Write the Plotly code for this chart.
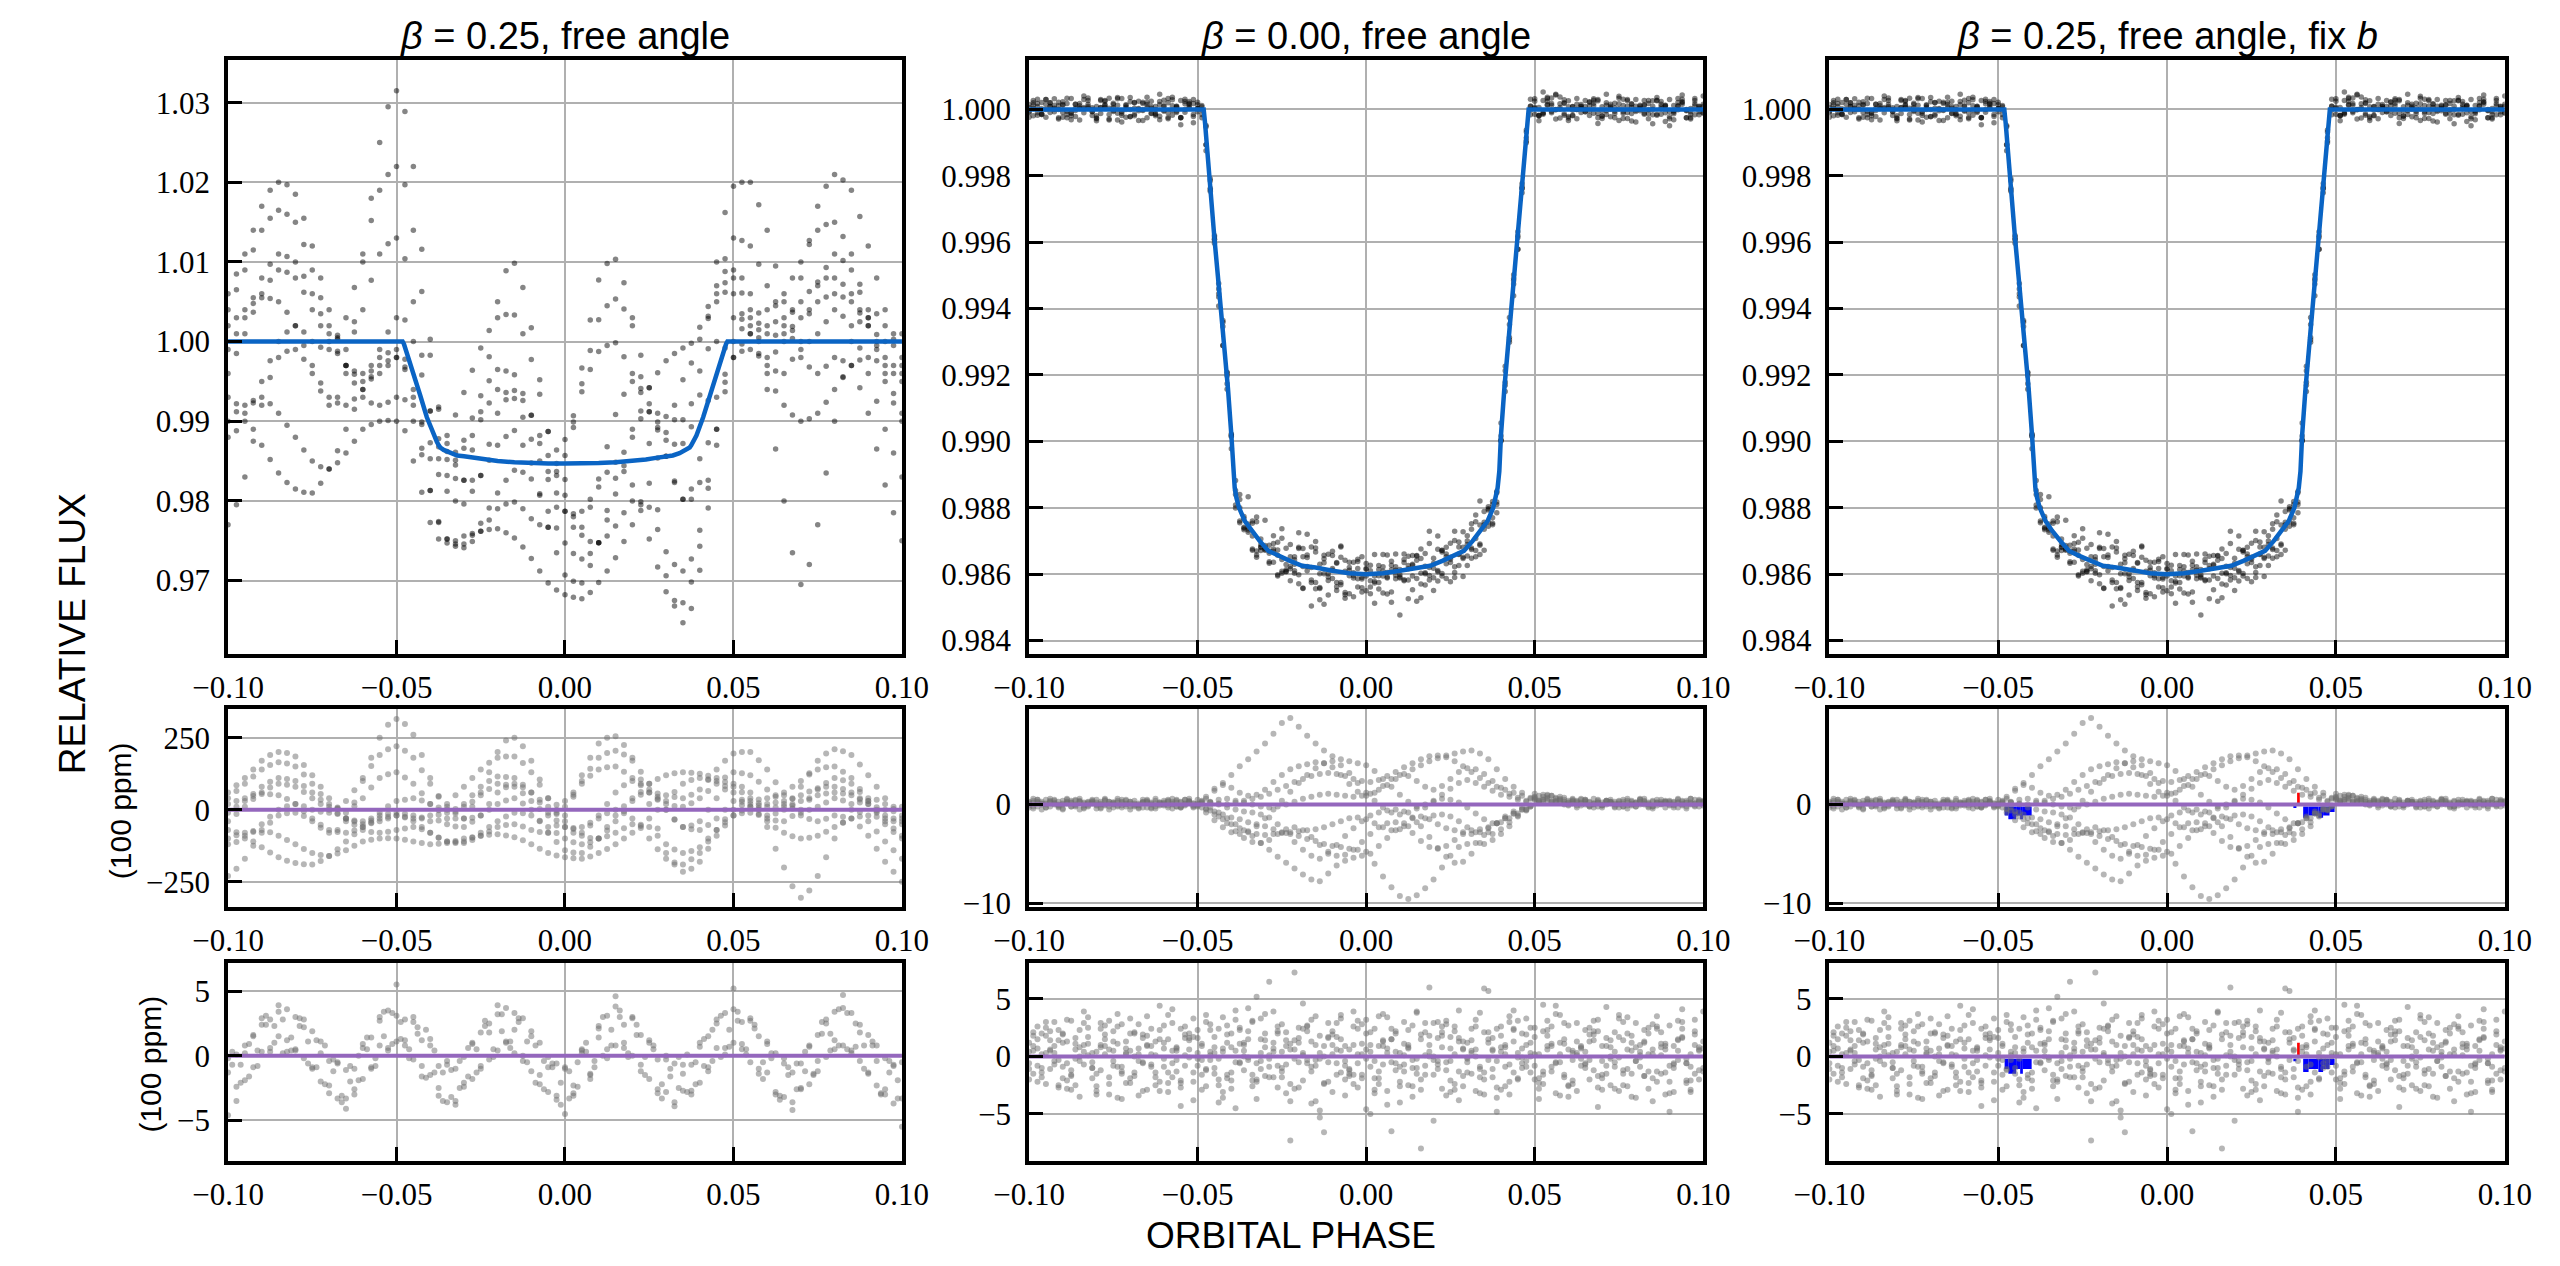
import plotly.graph_objects as go
from plotly.subplots import make_subplots

# ---------------- data ----------------
# orbital phase of the points, two interleaved cadences
PHASE_A = [-0.1000,-0.0975,-0.0950,-0.0925,-0.0900,-0.0875,-0.0850,-0.0825,-0.0800,-0.0775,
           -0.0750,-0.0725,-0.0700,-0.0675,-0.0650,-0.0625,-0.0600,-0.0575,-0.0550,-0.0525,
           -0.0500,-0.0475,-0.0450,-0.0425,-0.0400,-0.0375,-0.0350,-0.0325,-0.0300,-0.0275,
           -0.0250,-0.0225,-0.0200,-0.0175,-0.0150,-0.0125,-0.0100,-0.0075,-0.0050,-0.0025,
           0.0000,0.0025,0.0050,0.0075,0.0100,0.0125,0.0150,0.0175,0.0200,0.0225,
           0.0250,0.0275,0.0300,0.0325,0.0350,0.0375,0.0400,0.0425,0.0450,0.0475,
           0.0500,0.0525,0.0550,0.0575,0.0600,0.0625,0.0650,0.0675,0.0700,0.0725,
           0.0750,0.0775,0.0800,0.0825,0.0850,0.0875,0.0900,0.0925,0.0950,0.0975,
           0.1000]
PHASE_B = [-0.09875,-0.09625,-0.09375,-0.09125,-0.08875,-0.08625,-0.08375,-0.08125,-0.07875,-0.07625,
           -0.07375,-0.07125,-0.06875,-0.06625,-0.06375,-0.06125,-0.05875,-0.05625,-0.05375,-0.05125,
           -0.04875,-0.04625,-0.04375,-0.04125,-0.03875,-0.03625,-0.03375,-0.03125,-0.02875,-0.02625,
           -0.02375,-0.02125,-0.01875,-0.01625,-0.01375,-0.01125,-0.00875,-0.00625,-0.00375,-0.00125,
           0.00125,0.00375,0.00625,0.00875,0.01125,0.01375,0.01625,0.01875,0.02125,0.02375,
           0.02625,0.02875,0.03125,0.03375,0.03625,0.03875,0.04125,0.04375,0.04625,0.04875,
           0.05125,0.05375,0.05625,0.05875,0.06125,0.06375,0.06625,0.06875,0.07125,0.07375,
           0.07625,0.07875,0.08125,0.08375,0.08625,0.08875,0.09125,0.09375,0.09625,0.09875,
           0.10125]

FLAT = [1.0,1.0,1.0,1.0,1.0,1.0,1.0,1.0,1.0,1.0,1.0,1.0,1.0,1.0,1.0,1.0,1.0,1.0,1.0,1.0,1.0]

# transit models at the point phases (in-transit part)
MODEL_L_IN = [0.9992,0.9960,0.9926,0.9893,0.9870,0.9862,0.9858,0.9856,0.9854,0.9852,
              0.9851,0.9850,0.9849,0.98485,0.9848,0.98475,0.9847,0.9847,0.9847,0.9847,
              0.9847,0.9847,0.9847,0.98475,0.9848,0.98485,0.9849,0.9850,0.9851,0.9852,
              0.9854,0.9856,0.9858,0.9862,0.9870,0.9893,0.9926,0.9960,0.9992]
MODEL_M_IN_A = [0.9991,0.9961,0.99335,0.9902,0.9879,0.98745,0.9871,0.9868,0.98662,0.9865,
                0.9864,0.9863,0.98623,0.9862,0.98615,0.9861,0.98606,0.98603,0.98601,0.9860,
                0.98601,0.98603,0.98606,0.9861,0.98615,0.9862,0.98623,0.9863,0.9864,0.9865,
                0.98662,0.9868,0.9871,0.98745,0.9879,0.9902,0.99335,0.9961,0.9991]
MODEL_M_IN_B = [0.9976,0.9946,0.9919,0.9884,0.9876,0.9873,0.98695,0.98668,0.98655,0.98645,
                0.98635,0.98625,0.98621,0.98617,0.98612,0.98608,0.98604,0.98602,0.9860,0.9860,
                0.98602,0.98604,0.98608,0.98612,0.98617,0.98621,0.98625,0.98635,0.98645,0.98655,
                0.98668,0.98695,0.9873,0.9876,0.9884,0.9919,0.9946,0.9976,1.0]

# smooth model curves
MODEL_L_X = [-0.100,-0.0482,-0.0478,-0.0470,-0.0460,-0.0450,-0.0430,-0.0410,-0.0390,-0.0380,
             -0.0375,-0.0370,-0.0360,-0.0340,-0.0320,-0.0300,-0.0270,-0.0240,-0.0200,-0.0150,
             -0.0100,-0.0050,0.0000,0.0050,0.0100,0.0150,0.0200,0.0240,0.0270,0.0300,
             0.0320,0.0340,0.0360,0.0370,0.0375,0.0380,0.0390,0.0410,0.0430,0.0450,
             0.0460,0.0470,0.0478,0.0482,0.100]
MODEL_L_Y = [1.0,1.0,0.9997,0.9987,0.9974,0.9960,0.9933,0.9905,0.9882,0.9874,
             0.9870,0.9867,0.9864,0.9860,0.9857,0.9856,0.9854,0.9852,0.9850,0.98485,
             0.98475,0.9847,0.9847,0.9847,0.98475,0.98485,0.9850,0.9852,0.9854,0.9856,
             0.9857,0.9860,0.9864,0.9867,0.9870,0.9874,0.9882,0.9905,0.9933,0.9960,
             0.9974,0.9987,0.9997,1.0,1.0]
MODEL_M_X = [-0.100,-0.0482,-0.0478,-0.0470,-0.0460,-0.0450,-0.0440,-0.0430,-0.0420,-0.0410,
             -0.0400,-0.0395,-0.0390,-0.0385,-0.0377,-0.0360,-0.0340,-0.0316,-0.0290,-0.0260,
             -0.0226,-0.0190,-0.0150,-0.0100,-0.0050,0.0000,0.0050,0.0100,0.0150,0.0190,
             0.0226,0.0260,0.0290,0.0316,0.0340,0.0360,0.0377,0.0385,0.0390,0.0395,
             0.0400,0.0410,0.0420,0.0430,0.0440,0.0450,0.0460,0.0470,0.0478,0.0482,0.100]
MODEL_M_Y = [1.0,1.0,0.9996,0.9985,0.9973,0.9961,0.9950,0.9939,0.9928,0.9916,
             0.9902,0.9891,0.9886,0.9883,0.9880,0.9876,0.9873,0.9870,0.9867,0.98655,
             0.9864,0.98625,0.9862,0.9861,0.98603,0.9860,0.98603,0.9861,0.9862,0.98625,
             0.9864,0.98655,0.9867,0.9870,0.9873,0.9876,0.9880,0.9883,0.9886,0.9891,
             0.9902,0.9916,0.9928,0.9939,0.9950,0.9961,0.9973,0.9985,0.9996,1.0,1.0]

# left column: variability tracks (units of 100 ppm), one per transit
TRACKS_L = [
    [-230,-205,-170,-125,-80,-45,-20,-12,-10,-22,-40,-62,-80,-70,-40,25,100,180,250,295,315,
     297,260,190,110,45,-10,-30,-30,10,60,130,200,240,250,220,170,105,40,-15,-60,-80,-80,-55,-20,20,60,85,100,90,70,35,0,-35,-60,-55,-40,0,40,70,
     90,80,60,5,-60,-135,-200,-265,-305,-280,-230,-165,-100,-45,0,25,40,35,20,-5,-30],
    [60,85,110,140,170,190,200,197,185,155,120,80,40,5,-30,-52,-70,-77,-80,-76,-70,
     -65,-60,-68,-80,-96,-110,-115,-115,-105,-90,-75,-60,-53,-50,-58,-70,-77,-80,-55,-20,45,120,180,230,250,255,225,180,105,20,-65,-150,-190,-215,-205,-180,-135,-90,-55,
     -20,-3,10,15,20,25,30,40,50,63,75,80,80,72,60,40,20,0,-20,-30,-40],
    [40,65,90,115,140,155,165,160,150,122,90,55,20,3,-10,12,40,77,110,123,130,
     112,90,57,20,-17,-50,-58,-60,-42,-20,20,60,78,90,78,60,35,10,17,30,60,90,118,140,147,150,132,110,85,60,38,20,13,10,23,40,65,90,112,
     130,127,120,97,70,45,20,4,-10,0,10,25,40,32,20,-8,-40,-75,-110,-140,-170],
    [-10,10,30,55,80,97,110,107,100,82,60,35,10,-12,-30,-37,-40,-30,-20,-14,-10,
     -14,-20,-30,-40,-37,-30,-7,20,50,80,100,115,114,110,87,60,25,-10,-37,-60,-63,-60,-45,-30,-12,0,-12,-30,-63,-100,-137,-170,-183,-190,-172,-150,-110,-70,-33,
     0,16,30,36,40,50,60,80,100,122,140,147,150,132,110,72,30,-10,-50,-77,-100],
    [-40,-15,10,37,60,77,90,87,80,62,40,20,0,-15,-30,-41,-50,-47,-40,-30,-20,
     -27,-40,-60,-80,-97,-110,-112,-110,-97,-80,-60,-40,-23,-10,-12,-20,-38,-60,-81,-100,-113,-120,-113,-100,-72,-40,-5,30,62,90,107,120,127,130,128,125,118,110,96,
     80,61,40,23,10,8,10,19,30,40,50,56,60,56,50,36,20,9,0,3,10],
    [20,30,40,48,55,54,50,37,20,-5,-30,-52,-70,-77,-80,-72,-60,-37,-10,12,30,
     35,40,32,20,8,0,3,10,28,50,72,90,87,80,57,30,3,-20,-10,10,52,100,142,180,197,205,192,170,132,90,45,0,-33,-60,-68,-70,-53,-30,0,
     30,28,20,0,-20,-13,0,37,80,127,170,195,210,203,190,157,120,80,40,10,-20],
    [-70,-78,-90,-110,-130,-148,-165,-177,-185,-189,-190,-178,-160,-137,-110,-85,-60,-44,-30,-24,-20,
     -24,-30,-27,-20,-2,20,50,80,110,140,163,180,185,185,162,130,87,40,0,-40,-67,-90,-98,-100,-92,-80,-64,-50,-52,-60,-90,-120,-138,-150,-143,-130,-100,-70,-43,
     -20,-12,-10,-18,-30,-37,-40,-22,0,35,70,93,110,102,90,62,30,-5,-40,-65,-90],
    [-100,-88,-80,-74,-70,-78,-90,-105,-120,-136,-150,-157,-160,-152,-140,-125,-110,-104,-100,-99,-100,
     -104,-110,-115,-120,-118,-115,-108,-100,-95,-90,-87,-85,-89,-95,-106,-120,-135,-150,-159,-165,-168,-170,-162,-150,-136,-120,-100,-80,-56,-30,0,30,62,90,103,110,106,100,82,
     60,35,10,-15,-40,-62,-80,-92,-100,-97,-90,-76,-60,-44,-30,-23,-20,-24,-30,-40,-50],
    [-120,-112,-100,-77,-50,-24,0,12,20,12,0,-7,-10,8,30,68,110,152,190,210,220,
     205,180,137,90,48,10,-13,-30,-28,-20,0,20,32,40,22,0,-40,-80,-112,-140,-148,-150,-128,-100,-60,-20,12,40,52,60,56,50,44,40,52,70,103,140,170,
     195,200,200,172,140,95,50,14,-20,-32,-40,-31,-20,-24,-30,-58,-90,-135,-180,-215,-250],
]

# left column, lower residuals (100 ppm); rows alternate cadence A / B
RESID2_L = [
    [-1.3,-2.4,0.2,1.6,0.3,2.8,1.5,3.6,0.5,2.2,-1.0,0.2,-2.3,-0.6,-3.3,-1.0,-1.8,1.4,0.8,3.5,1.1,2.8,-0.3,1.2,-1.5,-0.8,-3.6,-1.0,-2.1,1.0,-0.8,1.8,3.2,1.0,2.0,-0.4,1.5,-1.5,-0.9,-3.1,-0.9,-2.3,0.5,-1.5,1.4,3.1,0.8,2.4,0.0,1.6,-1.8,-0.3,-2.8,-0.6,-2.7,-0.7,-2.1,1.5,0.6,3.3,1.0,2.6,-0.5,1.5,-1.3,0.2,-3.2,-1.3,-2.5,0.8,-0.4,2.5,1.2,3.7,0.4,1.8,-1.4,-0.4,-2.6,-0.8,-3.3],
    [-0.7,-0.7,-1.6,0.4,2.4,2.3,0.2,1.4,2.9,1.1,-0.9,0.8,-1.2,-3.1,-2.0,0.0,0.5,-0.8,1.5,3.3,1.3,0.5,1.7,2.0,-1.3,-1.3,-3.2,-0.4,-1.6,0.5,2.3,-0.1,1.9,1.1,2.6,1.1,-2.1,-0.4,-0.6,-2.1,-3.3,-0.5,1.0,-0.4,0.0,2.0,3.0,-0.1,1.6,-0.1,0.8,-2.2,-1.6,-0.1,-2.8,-0.5,-0.8,2.0,-0.1,2.0,2.7,0.5,2.4,-0.5,-0.2,-3.4,-1.5,-0.6,-1.2,-1.5,1.7,1.7,0.8,3.3,0.7,0.8,0.8,-2.9,-1.3,-1.9,-2.7],
    [-4.6,0.1,-1.9,1.5,2.4,0.3,3.9,1.2,0.4,2.8,-0.9,1.1,-2.9,-0.5,-4.1,-2.6,0.9,-0.9,2.7,0.6,5.5,0.8,2.6,-0.8,1.3,-2.5,-0.4,-3.8,-2.4,0.9,-1.0,2.5,0.4,3.7,0.2,2.9,-1.2,1.0,-2.8,-0.6,-4.5,-2.9,0.2,-1.8,2.1,-0.2,4.6,1.0,2.9,-0.7,1.2,-2.6,-0.3,-3.9,-1.4,-2.7,1.0,-1.2,2.5,0.6,5.2,0.9,2.7,-1.0,1.1,-2.8,-0.6,-4.2,-2.6,0.7,-1.2,2.8,0.5,4.7,0.2,2.4,-1.3,0.8,-3.0,-0.7,-5.5],
    [0.3,-2.1,0.9,-0.8,3.1,1.0,2.8,0.4,2.3,-0.6,1.2,-2.2,-0.3,-3.6,-0.8,-1.9,1.4,-0.2,3.4,0.9,2.6,-0.2,2.2,-1.7,0.4,-3.5,-1.1,-2.5,0.6,-1.3,2.7,0.5,3.2,0.6,2.9,-0.5,0.8,-2.6,-0.9,-3.8,-1.2,-2.4,0.3,-0.9,3.0,0.8,3.5,0.2,2.4,-1.5,0.5,-3.3,-1.0,-2.5,0.1,-2.2,1.3,-0.4,3.1,0.7,3.4,0.1,2.1,-1.8,0.2,-3.1,-0.9,-2.6,0.3,-1.4,2.6,0.4,3.6,0.5,2.5,-1.0,1.1,-3.0,-0.4,-3.3,-0.6],
    [-0.2,-3.5,0.8,-0.9,2.9,0.6,3.4,0.3,3.0,-0.2,1.9,-2.0,-0.4,-3.3,-1.1,-3.0,0.6,-1.0,3.0,0.4,3.1,1.2,3.0,-1.6,0.8,-3.1,-0.7,-3.5,-0.1,-1.8,1.8,-0.3,3.9,1.1,3.3,0.0,1.9,-2.2,-0.1,-3.4,-1.0,-3.1,0.4,-1.4,2.3,0.5,3.8,0.6,3.0,-1.2,1.0,-2.9,0.0,-3.6,-0.7,-3.0,0.7,-0.9,2.8,0.1,3.6,0.5,2.9,-1.4,0.9,-3.0,-0.2,-3.6,-0.6,-2.2,1.6,-0.1,3.4,0.8,3.3,-0.4,1.6,-2.3,-0.2,-3.7,-0.5],
]

# middle / right columns, first residuals (100 ppm): out-of-transit left, in-transit track, out-of-transit right
OUT_LEFT_M = [
    [0.3,-0.2,0.5,0.1,-0.4,0.2,0.6,-0.1,0.0,0.4,-0.3,0.2,-0.5,0.1,0.3,-0.2,0.4,0.0,-0.3,0.2,0.5],
    [-0.4,0.1,0.3,-0.2,0.5,-0.1,0.2,0.4,-0.3,0.1,0.6,-0.2,0.0,0.3,-0.4,0.2,-0.1,0.5,0.1,-0.2,0.3],
    [0.1,0.5,-0.3,0.2,0.0,0.4,-0.5,0.3,0.2,-0.1,0.1,0.5,-0.2,-0.4,0.2,0.6,-0.1,0.3,-0.3,0.4,0.0],
    [0.6,0.0,0.2,-0.3,0.3,-0.2,0.1,0.5,-0.4,0.3,-0.1,0.0,0.4,0.2,-0.3,0.1,0.3,-0.2,0.5,-0.1,0.2],
    [-0.1,0.3,0.1,0.4,-0.5,0.2,0.3,-0.2,0.5,0.0,0.2,-0.3,0.3,-0.1,0.4,-0.4,0.2,0.1,0.3,0.6,-0.2],
    [0.2,-0.5,0.4,0.0,0.2,0.5,-0.3,0.1,0.3,-0.2,0.4,0.1,-0.1,0.5,0.0,0.2,-0.3,0.4,-0.1,0.1,0.4],
    [-0.3,0.2,0.0,0.5,0.1,-0.2,0.4,0.2,-0.1,0.6,0.0,0.3,0.1,-0.3,0.5,0.1,0.0,-0.4,0.2,0.3,-0.1],
    [0.4,0.1,-0.2,0.3,0.6,0.0,-0.1,0.3,0.1,-0.5,0.2,0.4,-0.2,0.2,0.1,-0.1,0.5,0.2,0.0,-0.3,0.1],
    [0.2,0.5,-0.3,0.0,0.4,-0.2,0.3,0.1,-0.4,0.5,0.2,-0.1,0.3,0.0,-0.3,0.4,0.1,0.6,-0.2,0.3,0.1],
    [-0.2,0.3,0.6,-0.1,0.1,0.4,-0.4,0.2,0.0,0.3,-0.2,0.5,0.1,-0.3,0.2,0.0,0.4,-0.2,0.5,0.1,-0.3],
]
IN_TRACK_M = [
    [0.6,1.4,2.2,3.0,3.9,4.6,5.4,6.2,7.2,8.3,8.8,7.9,7.0,6.2,5.5,4.9,4.6,4.4,4.2,4.0,3.4,2.6,1.8,1.0,0.3,-0.2,-0.3,0.3,1.0,1.6,2.2,2.5,2.2,1.8,1.4,1.0,0.8,0.5,0.3],
    [-0.3,-0.8,-1.4,-2.0,-2.6,-3.2,-3.9,-4.6,-5.3,-5.9,-6.5,-7.1,-7.6,-7.8,-7.0,-6.2,-5.7,-5.4,-5.2,-5.0,-4.2,-3.4,-2.6,-1.9,-1.4,-1.2,-1.5,-2.0,-2.4,-2.6,-2.8,-3.0,-2.8,-2.4,-1.9,-1.4,-0.9,-0.5,-0.2],
    [-0.4,-0.7,-1.0,-1.3,-1.5,-1.8,-2.0,-2.2,-2.5,-2.8,-3.0,-3.2,-3.5,-3.7,-4.0,-4.2,-4.3,-4.5,-4.6,-4.8,-6.0,-7.3,-8.4,-9.3,-9.6,-9.2,-8.5,-7.6,-6.4,-5.2,-4.3,-4.0,-3.9,-4.0,-3.6,-3.0,-2.2,-1.2,-0.5],
    [0.3,0.5,0.6,0.4,0.2,0.0,-0.2,-0.3,-0.2,0.0,0.3,0.6,0.8,1.0,1.1,1.0,0.9,0.8,0.9,1.1,1.5,2.0,2.6,3.1,3.6,4.0,4.4,4.7,5.0,5.2,5.4,5.5,5.2,4.6,3.6,2.6,1.8,1.2,0.7],
    [-0.8,-1.6,-2.3,-2.8,-3.0,-2.8,-2.2,-1.4,-0.5,0.4,1.3,2.2,3.0,3.7,4.2,4.4,4.0,3.2,2.2,1.2,0.4,-0.3,-0.8,-1.0,-0.8,-0.4,0.0,0.4,0.6,0.5,0.2,-0.3,-0.9,-1.5,-1.9,-1.8,-1.4,-0.9,-0.5],
    [0.2,0.1,0.0,0.2,0.4,0.6,0.8,1.1,1.5,1.9,2.3,2.6,2.9,3.1,3.2,3.1,2.9,2.6,2.4,2.3,2.5,2.9,3.3,3.8,4.2,4.6,4.9,5.0,4.8,4.4,3.9,3.3,2.7,2.2,1.8,1.5,1.2,0.9,0.6],
    [-0.5,-1.0,-1.5,-2.0,-2.4,-2.7,-3.0,-3.1,-3.0,-2.9,-2.8,-2.7,-2.6,-2.5,-2.3,-2.0,-1.7,-1.4,-1.3,-1.5,-1.9,-2.3,-2.6,-2.5,-2.2,-1.8,-1.4,-1.1,-1.0,-1.2,-1.7,-2.3,-2.8,-3.1,-3.0,-2.5,-1.8,-1.1,-0.6],
    [0.2,0.0,-0.3,-0.5,-0.7,-0.8,-1.0,-1.3,-2.0,-2.9,-3.8,-4.6,-5.2,-5.5,-5.0,-4.1,-3.2,-2.4,-1.7,-1.1,-0.8,-0.6,-0.5,-0.7,-1.3,-2.2,-3.3,-4.4,-5.3,-5.9,-5.8,-5.0,-3.9,-2.8,-1.9,-1.2,-0.7,-0.3,-0.1],
    [0.8,1.6,2.0,1.7,1.2,0.9,1.0,1.5,2.3,3.0,3.6,3.9,4.1,4.3,4.2,3.8,3.0,2.1,1.3,0.9,1.2,1.9,2.6,3.0,2.9,2.4,1.8,1.5,1.9,2.6,3.3,3.7,3.6,3.1,2.4,1.7,1.1,0.7,0.4],
    [-0.6,-1.2,-1.9,-2.7,-3.4,-3.8,-3.9,-3.6,-3.0,-2.5,-2.3,-2.6,-3.3,-4.1,-4.8,-5.2,-5.1,-4.6,-3.8,-3.0,-2.3,-1.9,-1.8,-2.2,-2.9,-3.7,-4.3,-4.5,-4.2,-3.6,-3.0,-2.6,-2.5,-2.3,-1.9,-1.4,-0.9,-0.5,-0.2],
]
OUT_RIGHT_M = [
    [0.6,0.8,0.3,0.5,0.2,-0.3,0.4,0.1,-0.1,0.3,0.0,-0.4,0.2,0.6,-0.2,0.1,0.4,-0.3,0.2,0.5,-0.1],
    [0.9,0.4,0.7,0.1,0.3,0.5,-0.2,0.2,0.4,-0.3,0.1,0.3,0.0,-0.2,0.5,0.2,-0.1,0.3,0.6,-0.2,0.2],
    [0.5,1.0,0.2,0.6,-0.1,0.2,0.5,0.0,-0.3,0.3,0.4,-0.1,0.2,0.1,-0.4,0.3,0.2,0.5,-0.2,0.1,0.4],
    [0.3,0.7,0.6,0.0,0.4,0.1,-0.2,0.5,0.3,0.0,-0.2,0.4,0.6,0.1,0.2,-0.3,0.3,0.0,0.2,0.4,-0.3],
    [1.1,0.5,0.3,0.8,0.2,0.4,0.0,-0.3,0.2,0.5,0.1,0.2,-0.2,0.4,0.3,0.0,-0.1,0.6,0.2,-0.2,0.3],
    [0.4,0.9,0.2,0.3,0.6,-0.1,0.3,0.2,0.4,-0.2,0.5,0.0,0.3,-0.3,0.1,0.4,0.2,-0.1,0.0,0.3,0.5],
    [0.8,0.3,0.9,0.4,0.0,0.3,0.5,0.1,-0.1,0.2,0.3,0.6,-0.2,0.0,0.4,0.1,0.3,0.2,-0.4,0.1,0.2],
    [0.2,0.6,0.4,0.7,0.5,0.2,-0.1,0.4,0.0,0.3,-0.2,0.1,0.5,0.2,-0.1,0.3,0.0,0.4,0.1,0.5,0.0],
    [0.7,0.5,0.9,0.2,0.4,-0.1,0.3,0.6,0.0,0.2,-0.3,0.4,0.1,0.3,-0.2,0.5,0.0,0.2,0.4,-0.1,0.3],
    [0.4,1.0,0.3,0.5,0.1,0.6,0.2,-0.2,0.4,0.1,0.3,-0.1,0.5,0.0,0.2,0.3,-0.3,0.1,0.6,0.2,-0.1],
]

# middle / right columns, final residuals (100 ppm)
RESID2_M = [
    [1.2,-0.8,2.5,0.3,-1.9,3.1,-0.4,1.7,-2.6,0.9,2.2,-1.3,0.5,-3.4,1.8,0.1,-0.9,2.9,-2.1,1.4,-0.2,3.6,-1.5,0.7,-2.8,1.1,4.2,-0.6,2.0,-1.8,0.4,-3.9,1.6,2.7,-0.3,-2.4,1.0,3.3,-1.1,0.2,-4.6,2.4,-0.7,1.5,-2.2,0.8,3.8,-1.6,0.0,2.1,-3.1,1.3,-0.5,2.6,-1.4,0.6,-2.9,3.0,-0.1,1.9,-2.0,4.5,-0.9,1.2,-3.5,0.3,2.3,-1.2,0.9,-2.5,1.7,3.4,-0.4,-1.7,2.8,0.1,-3.2,1.4,-0.6,2.2,-1.0],
    [-1.5,2.0,0.6,-2.7,1.3,-0.2,3.9,-1.0,0.8,-3.3,2.6,0.2,-1.4,1.9,-0.7,4.4,-2.3,0.5,1.6,-3.8,0.9,-0.3,2.4,-1.9,3.2,0.0,-2.6,1.5,6.5,-0.8,2.1,7.3,0.3,-4.1,1.8,-0.5,2.9,-2.0,-1.6,1.1,-0.9,3.5,-3.0,0.4,-1.3,2.7,-8.0,1.0,-0.4,3.1,-2.4,0.7,1.4,-1.1,5.7,-3.6,0.2,2.3,-0.6,1.2,-2.8,0.9,3.7,-1.8,0.5,-0.2,2.5,-4.4,1.6,-0.9,3.0,-1.5,0.1,2.0,-2.2,1.1,-0.7,4.1,-3.1,0.6,1.7],
    [0.4,-2.2,1.8,3.0,-0.9,-1.6,2.3,0.1,-3.0,1.5,-0.4,2.8,-1.9,0.7,3.5,-2.5,1.2,-0.6,-4.3,2.0,0.3,-1.2,1.7,-3.6,0.8,2.5,-0.1,-2.0,1.4,3.9,-1.3,0.6,-2.7,2.2,-0.8,-6.6,1.9,0.5,-1.7,3.1,-0.2,-2.9,1.3,2.4,-4.0,0.7,-1.0,2.9,-0.3,1.8,-2.1,4.0,-1.4,0.0,-3.3,1.6,2.6,-0.7,-1.9,3.3,0.2,-2.4,1.1,-0.5,2.7,-3.0,0.4,1.9,-1.6,-0.2,3.6,-2.6,0.8,1.3,-3.9,2.1,-0.8,0.5,-2.3,3.2,-1.3],
    [2.1,0.2,-1.1,1.4,-2.8,0.6,2.9,-0.5,1.0,-1.8,3.7,-2.3,0.0,1.6,-0.9,2.3,-3.1,0.8,1.9,-1.4,-0.3,2.8,-2.0,1.2,-4.5,0.5,3.0,-1.1,-0.2,2.0,-3.2,1.4,4.6,-0.9,0.3,-2.2,1.7,-0.4,2.6,-1.9,-5.0,0.9,3.4,-1.2,0.1,-2.6,1.5,6.0,-0.7,-3.4,2.2,0.6,-1.5,3.8,-0.3,-2.7,1.0,2.4,-1.0,0.3,-3.7,1.8,-0.6,2.9,-2.1,0.7,1.3,-1.7,4.3,-0.5,-2.5,1.2,0.4,-1.3,2.6,-3.3,0.9,1.6,-0.9,-2.0,2.8],
    [-0.6,1.5,-2.4,0.9,2.0,-1.2,-3.5,1.1,0.4,2.7,-0.8,-1.5,3.3,0.2,-2.9,1.3,0.7,-1.8,2.4,-0.1,1.6,-2.6,0.3,3.4,-1.4,-0.5,2.2,-3.7,0.8,1.2,-1.0,-7.3,2.5,-0.3,1.0,-2.3,0.2,3.6,-1.5,-0.6,2.0,-3.2,0.9,1.5,-0.9,-2.5,3.9,0.1,-1.6,2.6,-0.4,-3.8,1.2,0.6,5.9,-1.8,0.4,-2.2,3.1,1.0,-0.8,2.2,-1.3,-3.4,0.6,2.9,-0.7,1.4,-2.9,0.0,3.3,-1.1,-0.4,2.3,-1.9,0.8,-4.8,1.5,-0.2,1.9,0.7],
    [1.8,-1.0,0.5,-2.5,3.2,1.1,-0.7,-1.9,2.4,0.6,-3.6,1.3,2.1,-0.6,0.9,-2.2,3.6,-1.3,0.1,1.7,-2.9,2.3,-0.2,-1.6,4.0,1.0,-2.1,0.3,-0.9,2.6,1.4,-2.8,0.1,3.2,-4.7,1.6,-0.6,0.9,-2.4,2.8,0.4,-1.3,-4.2,2.0,1.1,-0.3,-2.0,1.8,3.0,-1.2,0.2,-2.6,2.4,-0.9,1.5,-4.8,0.8,1.3,-0.1,2.5,-2.3,0.6,4.4,-1.6,0.3,-0.8,1.9,-2.7,0.9,2.1,-1.2,-3.5,1.0,0.2,3.5,-1.4,-0.6,2.4,-2.9,0.5,-1.1],
    [-2.0,0.7,3.0,-0.4,1.2,-1.7,0.0,2.5,-3.3,1.9,0.5,-0.9,-2.3,2.8,1.0,-1.4,-0.2,4.1,-2.7,0.6,2.3,-1.1,0.8,-3.1,2.0,-0.6,1.5,-2.2,3.7,0.4,-1.8,1.1,-0.5,2.6,-3.9,0.9,2.2,-1.4,0.6,-2.7,3.2,-0.4,1.4,-6.5,0.3,2.3,-1.5,-0.8,2.9,-2.8,0.7,1.6,-0.2,-3.0,2.1,-1.1,0.8,3.5,-2.0,-0.4,1.7,-1.3,2.6,0.2,-2.6,1.3,-0.6,3.1,-1.9,0.8,-0.1,2.0,-3.6,1.2,0.6,-1.5,2.7,-0.3,-2.1,1.0,3.9],
    [0.9,-1.4,2.2,-0.3,-2.1,1.6,0.4,-1.0,2.9,-2.4,1.1,0.3,-1.7,-0.5,2.4,-3.0,1.5,0.7,-0.8,3.3,-1.6,0.1,-2.5,1.9,0.5,-1.2,3.1,-0.4,-1.8,2.2,-0.7,0.6,-2.1,1.3,-0.2,2.9,-1.6,-3.4,1.0,0.2,2.1,-1.9,0.7,-0.6,3.0,-1.0,-2.9,0.4,1.6,-0.5,2.6,-1.7,0.3,-3.2,1.2,2.4,-0.9,-1.4,2.0,0.0,-1.9,3.1,-0.5,1.1,-2.4,0.8,-0.3,2.2,-1.5,-2.8,1.4,0.5,-0.9,2.5,-1.3,0.9,-3.1,1.7,0.2,-1.2,2.3],
    [-1.1,2.6,0.3,-0.7,1.9,-2.9,0.8,3.4,-1.5,0.2,1.3,-3.7,2.0,-0.4,0.9,-1.8,2.7,0.5,-2.3,1.6,-0.8,3.0,-1.0,0.4,-2.1,2.3,-0.3,5.2,-1.7,0.7,2.8,-2.4,1.2,-0.6,3.5,0.0,-3.1,1.5,-1.2,2.4,0.6,-1.9,3.7,-0.5,-2.6,1.0,-0.2,2.1,-5.6,0.8,1.7,-1.3,-0.1,3.2,-2.0,0.5,1.8,-3.3,0.3,-0.9,2.5,-1.6,0.9,3.6,-2.5,0.1,-1.0,2.2,-0.4,1.4,-3.0,0.6,2.9,-1.7,0.2,1.1,-2.2,3.1,-0.6,-1.5,1.3],
    [0.5,-1.8,1.4,2.3,-0.6,-2.5,1.0,0.3,-1.2,3.1,-0.9,0.7,2.0,-3.0,0.2,1.5,-1.4,-0.3,2.6,-2.2,1.1,0.4,-4.0,2.7,-0.5,1.2,-1.6,3.3,0.1,-2.7,0.9,-0.2,2.4,-1.3,-5.3,1.7,0.6,-0.8,3.9,-1.6,1.0,-2.4,0.3,2.2,-0.7,-3.5,1.9,0.0,-1.1,2.8,-2.9,1.3,0.5,-1.8,2.1,-0.4,-2.6,4.0,0.7,-1.4,0.2,2.3,-3.2,1.5,-0.3,0.9,-2.0,3.2,-0.8,0.4,-1.5,1.8,-0.1,-2.8,2.4,0.6,-1.0,3.0,-2.1,0.8,-0.4],
]

# blue blocks and red spike in the "fix b" residual panels
BAR_X = [-0.04755,-0.04585,-0.0441,-0.0431,-0.0414,0.03785,0.0411,0.04335,0.0455,0.04715,0.04885]
BAR_W = [0.0011,0.0023,0.0012,0.0008,0.0026,0.0009,0.0016,0.0029,0.0014,0.0019,0.0015]
BAR_LO = [-1.1,-1.5,-1.1,-1.5,-1.1,-0.35,-1.35,-1.1,-1.35,-1.1,-0.75]
BAR_HI = [-0.2,-0.2,-0.2,-0.2,-0.2,-0.2,-0.2,-0.2,-0.2,-0.2,-0.2]
RED_X = [0.0389]
RED_W = [0.0008]
RED_LO = [0.0]
RED_HI = [1.2]
ZERO_X = [-0.1, 0.1]
ZERO_Y = [0.0, 0.0]

TITLES = ["<i>β</i> = 0.25, free angle", "<i>β</i> = 0.00, free angle",
          "<i>β</i> = 0.25, free angle, fix <i>b</i>"]

for r in TRACKS_L + RESID2_L + RESID2_M:
    assert len(r) == 81, len(r)
for a, b, c in zip(OUT_LEFT_M, IN_TRACK_M, OUT_RIGHT_M):
    assert len(a) == 21 and len(b) == 39 and len(c) == 21

# ---------------- assemble ----------------
MODEL_L_A = FLAT + MODEL_L_IN + FLAT
MODEL_M_A = FLAT + MODEL_M_IN_A + FLAT
MODEL_M_B = FLAT + MODEL_M_IN_B + FLAT

top_l_x, top_l_y, mid_l_y = [], [], []
for tr in TRACKS_L:
    top_l_x += PHASE_A
    top_l_y += [m + v * 1e-4 for m, v in zip(MODEL_L_A, tr)]
    mid_l_y += tr

bot_l_x, bot_l_y = [], []
for i, row in enumerate(RESID2_L):
    bot_l_x += PHASE_A if i % 2 == 0 else PHASE_B
    bot_l_y += row

m_x, top_m_y, mid_m_y, bot_m_y = [], [], [], []
for i in range(len(RESID2_M)):
    grid = PHASE_A if i % 2 == 0 else PHASE_B
    model = MODEL_M_A if i % 2 == 0 else MODEL_M_B
    r1 = OUT_LEFT_M[i] + IN_TRACK_M[i] + OUT_RIGHT_M[i]
    r2 = RESID2_M[i]
    m_x += grid
    mid_m_y += r1
    bot_m_y += r2
    top_m_y += [m + (a + b) * 1e-4 for m, a, b in zip(model, r1, r2)]

# ---------------- figure ----------------
fig = make_subplots(rows=3, cols=3)

DARK = dict(color="rgba(0,0,0,0.48)", size=5.5)
GREY = dict(color="rgba(110,110,110,0.5)", size=6)
BLUE = "#0a64c4"
PURPLE = "#9467bd"

def pts(x, y, marker, r, c):
    fig.add_trace(go.Scatter(x=x, y=y, mode="markers", marker=marker,
                             showlegend=False, hoverinfo="skip"), row=r, col=c)

def line(x, y, color, width, r, c):
    fig.add_trace(go.Scatter(x=x, y=y, mode="lines", line=dict(color=color, width=width),
                             showlegend=False, hoverinfo="skip"), row=r, col=c)

def bars(r, c):
    fig.add_trace(go.Bar(x=BAR_X, y=[h - l for h, l in zip(BAR_HI, BAR_LO)], base=BAR_LO,
                         width=BAR_W, marker=dict(color="#0000ff", line=dict(width=0)),
                         showlegend=False, hoverinfo="skip"), row=r, col=c)
    fig.add_trace(go.Bar(x=RED_X, y=[h - l for h, l in zip(RED_HI, RED_LO)], base=RED_LO,
                         width=RED_W, marker=dict(color="#ff0000", line=dict(width=0)),
                         showlegend=False, hoverinfo="skip"), row=r, col=c)

# left column
pts(top_l_x, top_l_y, DARK, 1, 1)
line(MODEL_L_X, MODEL_L_Y, BLUE, 4.5, 1, 1)
pts(top_l_x, mid_l_y, GREY, 2, 1)
line(ZERO_X, ZERO_Y, PURPLE, 4, 2, 1)
pts(bot_l_x, bot_l_y, GREY, 3, 1)
line(ZERO_X, ZERO_Y, PURPLE, 4, 3, 1)

# middle and right columns share the same data
for c in (2, 3):
    pts(m_x, top_m_y, DARK, 1, c)
    line(MODEL_M_X, MODEL_M_Y, BLUE, 4.5, 1, c)
    pts(m_x, mid_m_y, GREY, 2, c)
    line(ZERO_X, ZERO_Y, PURPLE, 4, 2, c)
    if c == 3:
        bars(2, c)
    pts(m_x, bot_m_y, GREY, 3, c)
    line(ZERO_X, ZERO_Y, PURPLE, 4, 3, c)
    if c == 3:
        bars(3, c)

COLS = [[0.0737, 0.3436], [0.3945, 0.6645], [0.7150, 0.9855]]
ROWS = [[0.4842, 0.9587], [0.2820, 0.4400], [0.0790, 0.2370]]

axis_common = dict(showline=True, mirror=True, linecolor="black", linewidth=3.5,
                   ticks="inside", ticklen=14, tickwidth=3, tickcolor="black",
                   showgrid=True, gridcolor="#b0b0b0", gridwidth=2, zeroline=False,
                   tickfont=dict(family="Liberation Serif", size=31, color="black"))

Y_SPECS = {
    (1, 1): ([0.9608, 1.0354], [0.97, 0.98, 0.99, 1.00, 1.01, 1.02, 1.03],
             ["0.97", "0.98", "0.99", "1.00", "1.01", "1.02", "1.03"]),
    (1, 2): ([0.9836, 1.0015], [0.984, 0.986, 0.988, 0.990, 0.992, 0.994, 0.996, 0.998, 1.000],
             ["0.984", "0.986", "0.988", "0.990", "0.992", "0.994", "0.996", "0.998", "1.000"]),
    (2, 1): ([-337, 349], [-250, 0, 250], ["−250", "0", "250"]),
    (2, 2): ([-10.4, 9.7], [-10, 0], ["−10", "0"]),
    (3, 1): ([-8.15, 7.15], [-5, 0, 5], ["−5", "0", "5"]),
    (3, 2): ([-9.1, 8.1], [-5, 0, 5], ["−5", "0", "5"]),
}

for r in range(1, 4):
    for c in range(1, 4):
        n = (r - 1) * 3 + c
        sfx = "" if n == 1 else str(n)
        spec = Y_SPECS[(r, 1 if c == 1 else 2)]
        fig.layout["xaxis" + sfx].update(
            domain=COLS[c - 1], range=[-0.1, 0.1],
            tickvals=[-0.1, -0.05, 0.0, 0.05, 0.1],
            ticktext=["−0.10", "−0.05", "0.00", "0.05", "0.10"],
            ticklabelstandoff=3, **axis_common)
        fig.layout["yaxis" + sfx].update(
            domain=ROWS[r - 1], range=spec[0], tickvals=spec[1], ticktext=spec[2],
            ticklabelstandoff=8, **axis_common)

ann = []
for c, t in enumerate(TITLES):
    ann.append(dict(text=t, x=sum(COLS[c]) / 2, y=0.978, xref="paper", yref="paper",
                    showarrow=False, xanchor="center", yanchor="middle",
                    font=dict(family="Liberation Sans", size=38, color="black")))
ann.append(dict(text="RELATIVE FLUX", x=0.0113, y=0.50, xref="paper", yref="paper",
                showarrow=False, textangle=-90, xanchor="center", yanchor="middle",
                font=dict(family="Liberation Sans", size=37, color="black")))
ann.append(dict(text="(100 ppm)", x=0.0305, y=0.3586, xref="paper", yref="paper",
                showarrow=False, textangle=-90, xanchor="center", yanchor="middle",
                font=dict(family="Liberation Sans", size=30, color="black")))
ann.append(dict(text="(100 ppm)", x=0.0426, y=0.1564, xref="paper", yref="paper",
                showarrow=False, textangle=-90, xanchor="center", yanchor="middle",
                font=dict(family="Liberation Sans", size=30, color="black")))
ann.append(dict(text="ORBITAL PHASE", x=0.4992, y=0.0197, xref="paper", yref="paper",
                showarrow=False, xanchor="center", yanchor="middle",
                font=dict(family="Liberation Sans", size=37, color="black")))

fig.update_layout(width=2560, height=1266, margin=dict(l=0, r=0, t=0, b=0),
                  paper_bgcolor="white", plot_bgcolor="white", barmode="overlay",
                  annotations=ann, showlegend=False)

fig.write_html("out.html")
